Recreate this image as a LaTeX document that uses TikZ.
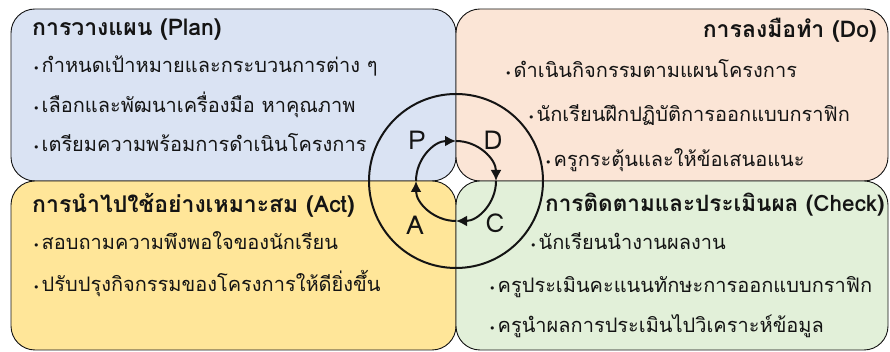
\documentclass[tikz,border=0pt]{standalone}
\usepackage{fontspec}
\setmainfont[Script=Thai]{Loma}
\newfontfamily\buf{DejaVu Sans}
\usetikzlibrary{arrows.meta,calc}
\definecolor{cblue}{RGB}{218,227,243}
\definecolor{cpeach}{RGB}{251,229,214}
\definecolor{cyellow}{RGB}{255,230,153}
\definecolor{cgreen}{RGB}{226,240,217}
\definecolor{ink}{RGB}{20,20,20}
\newcommand{\bu}{{\fontsize{11}{11}\buf •}\hspace{2pt}}
\tikzset{
  quad/.style={draw=ink, line width=0.9pt, rounded corners=24pt},
  ttl/.style={inner sep=0pt, font=\fontsize{23}{23}\selectfont\bfseries, text=ink},
  itm/.style={inner sep=0pt, anchor=base west, font=\fontsize{20}{20}\selectfont, text=ink},
  letter/.style={inner sep=0pt, font=\fontsize{26}{26}\selectfont, text=ink},
  ring/.style={draw=ink, line width=2pt},
  cyc/.style={draw=ink, line width=2pt, -{Latex[length=11pt,width=11pt]}}
}
\begin{document}
\begin{tikzpicture}[x=1pt,y=1pt]
\useasboundingbox (0,0) rectangle (890,352);
% quadrants
\path[quad, fill=cblue]   (11,171) rectangle (456,343);
\path[quad, fill=cpeach]  (456,171) rectangle (888,343);
\path[quad, fill=cyellow] (11,2) rectangle (456,171);
\path[quad, fill=cgreen]  (456,2) rectangle (888,171);
% titles
\node[ttl, anchor=base west] (tp) at (32,316) {การวางแผน (Plan)};
\node[ttl, anchor=base east] (td) at (877,314) {การลงมือทำ (Do)};
\node[ttl, anchor=base west] (ta) at (32,139) {การนำไปใช้อย่างเหมาะสม (Act)};
\node[ttl, anchor=base west, font=\fontsize{22.5}{22.5}\selectfont\bfseries] (tc) at (545,140) {การติดตามและประเมินผล (Check)};
% plan items
\node[itm] (p1) at (33,279) {\bu กำหนดเป้าหมายและกระบวนการต่าง ๆ};
\node[itm] (p2) at (33,239) {\bu เลือกและพัฒนาเครื่องมือ หาคุณภาพ};
\node[itm] (p3) at (33,200) {\bu เตรียมความพร้อมการดำเนินโครงการ};
% do items
\node[itm] (d1) at (505,274) {\bu ดำเนินกิจกรรมตามแผนโครงการ};
\node[itm] (d2) at (528,230) {\bu นักเรียนฝึกปฏิบัติการออกแบบกราฟิก};
\node[itm] (d3) at (545,185) {\bu ครูกระตุ้นและให้ข้อเสนอแนะ};
% act items
\node[itm] (a1) at (33,102) {\bu สอบถามความพึงพอใจของนักเรียน};
\node[itm] (a2) at (33,60) {\bu ปรับปรุงกิจกรรมของโครงการให้ดียิ่งขึ้น};
% check items
\node[itm] (c1) at (530,102) {\bu นักเรียนนำงานผลงาน};
\node[itm] (c2) at (489,59) {\bu ครูประเมินคะแนนทักษะการออกแบบกราฟิก};
\node[itm] (c3) at (489,19) {\bu ครูนำผลการประเมินไปวิเคราะห์ข้อมูล};
% cycle
\coordinate (o) at (456,171);
\draw[ring] (o) circle[radius=87];
\draw[cyc] ($(o)+(-40,0)$) arc[start angle=180, end angle=90, radius=40];
\draw[cyc] ($(o)+(0,40)$) arc[start angle=90, end angle=0, radius=40];
\draw[cyc] ($(o)+(40,0)$) arc[start angle=0, end angle=-90, radius=40];
\draw[cyc] ($(o)+(0,-40)$) arc[start angle=-90, end angle=-180, radius=40];
\node[letter] (lp) at (417,212) {P};
\node[letter] (ld) at (493,212) {D};
\node[letter] (la) at (415,127) {A};
\node[letter] (lc) at (495,129) {C};
\end{tikzpicture}
\end{document}
